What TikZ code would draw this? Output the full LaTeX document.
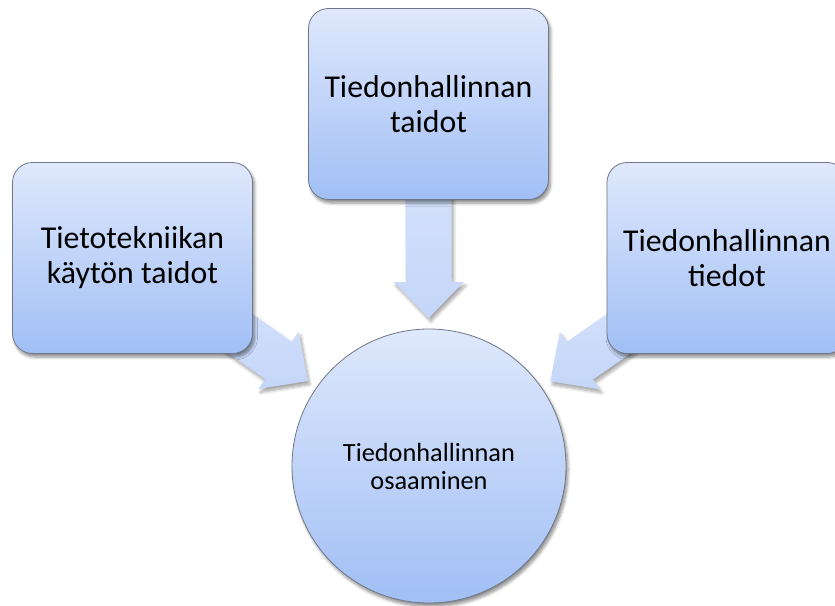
\documentclass[tikz,border=0pt]{standalone}
\usepackage{fontspec}
\setmainfont{Carlito}
\usetikzlibrary{calc,shadows.blur}
\definecolor{boxtop}{RGB}{223,232,252}
\definecolor{boxbot}{RGB}{161,191,245}
\definecolor{boxline}{RGB}{110,120,136}
\definecolor{arrtop}{RGB}{221,231,252}
\definecolor{arrbot}{RGB}{196,214,249}
\tikzset{
  box/.style={draw=boxline, line width=0.8pt, rounded corners=20pt,
    top color=boxtop, bottom color=boxbot, align=center,
    minimum width=240pt, minimum height=191pt, inner sep=0pt,
    font=\fontsize{31.8}{35}\selectfont,
    blur shadow={shadow xshift=2pt, shadow yshift=-3.5pt, shadow blur radius=3pt, shadow blur steps=6, shadow opacity=45}},
  hub/.style={draw=boxline, line width=0.8pt, circle, minimum size=274pt,
    top color=boxtop, bottom color=boxbot, align=center, inner sep=0pt,
    font=\fontsize{26.3}{28}\selectfont,
    blur shadow={shadow xshift=2pt, shadow yshift=-3.5pt, shadow blur radius=3pt, shadow blur steps=6, shadow opacity=45}},
  fatarrow/.style={top color=arrtop, bottom color=arrbot, draw=none,
    blur shadow={shadow xshift=2pt, shadow yshift=-3.5pt, shadow blur radius=3pt, shadow blur steps=6, shadow opacity=35}}
}
\newcommand\myarrow[2]{%
  \coordinate (tip-#1) at ($(#2)!148pt!(#1)$);
  \coordinate (base-#1) at ($(tip-#1)!36pt!(#1)$);
  \path[fatarrow] (tip-#1)
    -- ($(base-#1)!35pt!90:(#1)$)
    -- ($(base-#1)!23pt!90:(#1)$)
    -- ($(#1)!23pt!-90:(base-#1)$)
    -- ($(#1)!23pt!90:(base-#1)$)
    -- ($(base-#1)!23pt!-90:(#1)$)
    -- ($(base-#1)!35pt!-90:(#1)$)
    -- cycle;}
\begin{document}
\begin{tikzpicture}[x=1pt,y=-1pt]
\useasboundingbox (0,0) rectangle (835,605);
\clip (0,0) rectangle (835,605);
\coordinate (ctop) at (428.5,104);
\coordinate (cleft) at (132.5,258);
\coordinate (cright) at (727,258);
\coordinate (chub) at (429,466);
\myarrow{ctop}{chub}
\myarrow{cleft}{chub}
\myarrow{cright}{chub}
\node[box] (top) at (ctop) {Tiedonhallinnan\\taidot};
\node[box] (left) at (cleft) {Tietotekniikan\\käytön taidot};
\node[box] (right) at (cright) {Tiedonhallinnan\\tiedot};
\node[hub] (hub) at (chub) {Tiedonhallinnan\\osaaminen};
\end{tikzpicture}
\end{document}
